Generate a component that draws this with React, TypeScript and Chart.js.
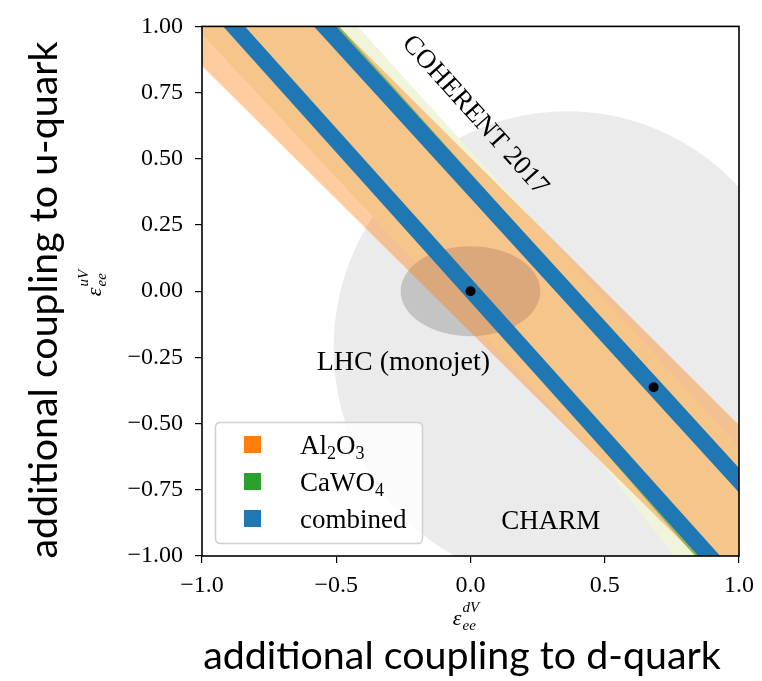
import React, { useEffect, useRef } from 'react';
import { Chart, registerables } from 'chart.js';

Chart.register(...registerables);

// ---- tick labels ----
const xTickLabels = ['\u22121.0', '\u22120.5', '0.0', '0.5', '1.0'];
const yTickLabels = ['\u22121.00', '\u22120.75', '\u22120.50', '\u22120.25', '0.00', '0.25', '0.50', '0.75', '1.00'];

// ---- allowed regions: vertices [eps_d, eps_u] (boundary corners, mostly on the frame) ----
const coherentRegion = [[-1, 1], [-0.42, 1], [1, -0.59], [1, -1], [0.759, -1], [0.45, -0.6], [-1, 0.97]];
const al2o3Region = [[-1, 1], [-0.49, 1], [1, -0.505], [1, -1], [0.841, -1], [-1, 0.85]];
const cawo4StripeA = [[-0.869, 1], [-0.85, 1], [0.92, -1], [0.836, -1]];
const cawo4StripeB = [[-0.5755, 1], [-0.489, 1], [1, -0.687], [1, -0.752]];
const combinedStripeA = [[-0.921, 1], [-0.84, 1], [0.93, -1], [0.849, -1]];
const combinedStripeB = [[-0.583, 1], [-0.5, 1], [1, -0.668], [1, -0.76]];
const bestFitPoints = [[0, 0], [0.682, -0.363]];

// ellipses: [centre d, centre u, radius d, radius u]
const charmEllipse = [0.36, -0.215, 0.87, 0.895];
const lhcEllipse = [0, 0, 0.26, 0.17];

// ---- annotations ----
const annotationTexts = ['COHERENT 2017', 'LHC (monojet)', 'CHARM'];
const annotationPositions = [[0.017, 0.664], [-0.25, -0.297], [0.299, -0.898]];
const annotationAngles = [48, 0, 0];
const annotationSizes = [27, 28, 27];

// ---- legend ----
const legendColors = ['#ff7f0e', '#2ca02c', '#1f77b4'];
const legendLabels: [string, boolean][][] = [
  [['Al', false], ['2', true], ['O', false], ['3', true]],
  [['CaWO', false], ['4', true]],
  [['combined', false]],
];

const SERIF = '"Liberation Serif", "DejaVu Serif", serif';
const SANS = 'Lato, "Open Sans", sans-serif';

const toPts = (arr: number[][]) => arr.map(([x, y]) => ({ x, y }));

const poly = (pts: number[][], color: string) => ({
  data: toPts(pts),
  showLine: true,
  fill: 'shape',
  backgroundColor: color,
  borderColor: 'rgba(0,0,0,0)',
  borderWidth: 0,
  pointRadius: 0,
  pointHoverRadius: 0,
});

function drawEps(ctx: CanvasRenderingContext2D, cx: number, baseY: number, sup: string, sub: string) {
  ctx.font = `italic 22px ${SERIF}`;
  const wE = ctx.measureText('\u03b5').width;
  ctx.font = `italic 15px ${SERIF}`;
  const wS = Math.max(ctx.measureText(sup).width, ctx.measureText(sub).width);
  const total = wE + 1 + wS;
  const start = cx - total / 2;
  ctx.textAlign = 'left';
  ctx.textBaseline = 'alphabetic';
  ctx.font = `italic 22px ${SERIF}`;
  ctx.fillText('\u03b5', start, baseY);
  ctx.font = `italic 15px ${SERIF}`;
  ctx.fillText(sup, start + wE + 1, baseY - 13);
  ctx.fillText(sub, start + wE + 1, baseY + 5);
}

function fitSize(ctx: CanvasRenderingContext2D, text: string, width: number, family: string) {
  ctx.font = `100px ${family}`;
  return (100 * width) / ctx.measureText(text).width;
}

function drawEllipse(chart: any, e: number[], color: string) {
  const { ctx, chartArea: a, scales } = chart;
  const xs = scales.x;
  const ys = scales.y;
  ctx.save();
  ctx.beginPath();
  ctx.rect(a.left, a.top, a.right - a.left, a.bottom - a.top);
  ctx.clip();
  const cx = xs.getPixelForValue(e[0]);
  const cy = ys.getPixelForValue(e[1]);
  const rx = Math.abs(xs.getPixelForValue(e[0] + e[2]) - cx);
  const ry = Math.abs(ys.getPixelForValue(e[1] + e[3]) - cy);
  ctx.beginPath();
  ctx.ellipse(cx, cy, rx, ry, 0, 0, Math.PI * 2);
  ctx.fillStyle = color;
  ctx.fill();
  ctx.restore();
}

const COHERENT_INDEX = 6;

export default function App() {
  const ref = useRef<HTMLCanvasElement>(null);

  useEffect(() => {
    const canvas = ref.current as HTMLCanvasElement;

    const bgPlugin = {
      id: 'bgShapes',
      beforeDatasetsDraw(chart: any) {
        drawEllipse(chart, charmEllipse, '#ebebeb');
      },
      afterDatasetDraw(chart: any, args: any) {
        if (args.index === COHERENT_INDEX) drawEllipse(chart, lhcEllipse, '#c4c4c4');
      },
    };

    const overlayPlugin = {
      id: 'overlay',
      afterDraw(chart: any) {
        const { ctx, chartArea: a, scales } = chart;
        const xs = scales.x;
        const ys = scales.y;
        ctx.save();
        // frame
        ctx.strokeStyle = '#000';
        ctx.lineWidth = 1.6;
        ctx.strokeRect(a.left, a.top, a.right - a.left, a.bottom - a.top);

        // annotations
        ctx.fillStyle = '#000';
        annotationTexts.forEach((t, i) => {
          const px = xs.getPixelForValue(annotationPositions[i][0]);
          const py = ys.getPixelForValue(annotationPositions[i][1]);
          ctx.save();
          ctx.font = `${annotationSizes[i]}px ${SERIF}`;
          ctx.textAlign = 'center';
          if (annotationAngles[i] !== 0) {
            ctx.translate(px, py);
            ctx.rotate((annotationAngles[i] * Math.PI) / 180);
            ctx.textBaseline = 'middle';
            ctx.fillText(t, 0, 0);
          } else {
            ctx.textBaseline = 'alphabetic';
            ctx.fillText(t, px, py);
          }
          ctx.restore();
        });

        // legend
        const lx = 215.5, ly = 422.5, lw = 207, lh = 121, r = 5;
        ctx.beginPath();
        ctx.moveTo(lx + r, ly);
        ctx.lineTo(lx + lw - r, ly);
        ctx.quadraticCurveTo(lx + lw, ly, lx + lw, ly + r);
        ctx.lineTo(lx + lw, ly + lh - r);
        ctx.quadraticCurveTo(lx + lw, ly + lh, lx + lw - r, ly + lh);
        ctx.lineTo(lx + r, ly + lh);
        ctx.quadraticCurveTo(lx, ly + lh, lx, ly + lh - r);
        ctx.lineTo(lx, ly + r);
        ctx.quadraticCurveTo(lx, ly, lx + r, ly);
        ctx.closePath();
        ctx.fillStyle = 'rgba(255,255,255,0.8)';
        ctx.fill();
        ctx.strokeStyle = '#d0d0d0';
        ctx.lineWidth = 1.5;
        ctx.stroke();
        legendLabels.forEach((runs, i) => {
          const cy = 444.5 + i * 37;
          ctx.fillStyle = legendColors[i];
          ctx.fillRect(244, cy - 8.5, 17, 17);
          ctx.fillStyle = '#000';
          ctx.textAlign = 'left';
          ctx.textBaseline = 'alphabetic';
          let x = 300;
          runs.forEach(([txt, sub]) => {
            ctx.font = sub ? `18px ${SERIF}` : `27px ${SERIF}`;
            ctx.fillText(txt, x, cy + 9 + (sub ? 5 : 0));
            x += ctx.measureText(txt).width;
          });
        });

        // math axis labels
        ctx.fillStyle = '#000';
        drawEps(ctx, 466, 625, 'dV', 'ee');
        ctx.save();
        ctx.translate(101, 283);
        ctx.rotate(-Math.PI / 2);
        drawEps(ctx, 0, 0, 'uV', 'ee');
        ctx.restore();

        // big descriptive labels
        const xl = 'additional coupling to d-quark';
        const yl = 'additional coupling to u-quark';
        const sx = fitSize(ctx, xl, 518, SANS);
        ctx.font = `${sx}px ${SANS}`;
        ctx.textAlign = 'center';
        ctx.textBaseline = 'middle';
        ctx.fillText(xl, 462, 656);
        const sy = fitSize(ctx, yl, 517, SANS);
        ctx.save();
        ctx.translate(44, 300);
        ctx.rotate(-Math.PI / 2);
        ctx.font = `${sy}px ${SANS}`;
        ctx.textAlign = 'center';
        ctx.textBaseline = 'middle';
        ctx.fillText(yl, 0, 0);
        ctx.restore();

        ctx.restore();
      },
    };

    const chart = new Chart(canvas, {
      type: 'scatter',
      data: {
        datasets: [
          {
            data: toPts(bestFitPoints),
            showLine: false,
            pointRadius: 5,
            pointHoverRadius: 5,
            backgroundColor: '#000',
            borderColor: '#000',
            borderWidth: 0,
          } as any,
          poly(combinedStripeA, '#1f77b4'),
          poly(combinedStripeB, '#1f77b4'),
          poly(cawo4StripeA, 'rgba(44,160,44,0.5)'),
          poly(cawo4StripeB, 'rgba(44,160,44,0.5)'),
          poly(al2o3Region, 'rgba(255,127,14,0.4)'),
          poly(coherentRegion, 'rgb(240,244,218)'),
        ],
      },
      options: {
        responsive: false,
        animation: false,
        devicePixelRatio: 1,
        events: [],
        layout: { padding: { left: 0, right: 21, top: 17, bottom: 0 } },
        plugins: { legend: { display: false }, tooltip: { enabled: false } },
        scales: {
          x: {
            type: 'linear',
            min: -1,
            max: 1,
            afterFit: (s: any) => { s.height = 125; },
            ticks: {
              stepSize: 0.5,
              autoSkip: false,
              maxRotation: 0,
              padding: 8,
              color: '#000',
              font: { family: SERIF, size: 24 },
              callback: (_v: any, i: number) => xTickLabels[i],
            },
            grid: { display: true, drawOnChartArea: false, drawTicks: true, tickLength: 7, color: '#000', lineWidth: 1.2 },
            border: { display: false },
          },
          y: {
            type: 'linear',
            min: -1,
            max: 1,
            afterFit: (s: any) => { s.width = 202; },
            ticks: {
              stepSize: 0.25,
              autoSkip: false,
              padding: 12,
              color: '#000',
              font: { family: SERIF, size: 24 },
              callback: (_v: any, i: number) => yTickLabels[i],
            },
            grid: { display: true, drawOnChartArea: false, drawTicks: true, tickLength: 7, color: '#000', lineWidth: 1.2 },
            border: { display: false },
          },
        },
      } as any,
      plugins: [bgPlugin, overlayPlugin],
    });

    return () => chart.destroy();
  }, []);

  return (
    <div style={{ position: 'absolute', left: 0, top: 0, width: 762, height: 681, background: '#fff' }}>
      <canvas ref={ref} width={762} height={681} style={{ display: 'block', width: 762, height: 681 }} />
    </div>
  );
}
